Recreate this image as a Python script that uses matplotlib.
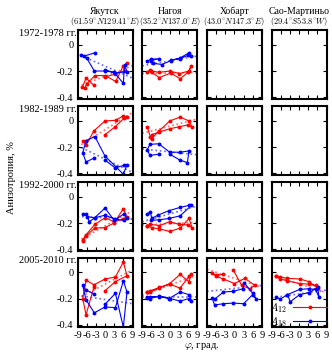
import matplotlib
matplotlib.use('Agg')
import matplotlib.pyplot as plt

plt.rcParams['font.family'] = ['Liberation Serif', 'DejaVu Serif']
plt.rcParams['mathtext.fontset'] = 'cm'
plt.rcParams['axes.unicode_minus'] = False

stations = ['Якутск', 'Нагоя', 'Хобарт', 'Сао-Мартиньо']
coords = [r'$(61.59^{\circ}N129.41^{\circ}E)$', r'$(35.2^{\circ}N137.0^{\circ}E)$',
          r'$(43.0^{\circ}N147.3^{\circ}E)$', r'$(29.4^{\circ}S53.8^{\circ}W)$']
periods = ['1972-1978 гг.', '1982-1989 гг.', '1992-2000 гг.', '2005-2010 гг.']
phi_ticks = [-9, -6, -3, 0, 3, 6, 9]
a_ticks = [0, -0.2, -0.4]
a_labels = ['0', '-0.2', '-0.4']
fit_phi = [-9, 9]

# (phi, anisotropy) pairs
yak1_a12 = [(-3.6, -0.31), (-6.2, -0.255), (-7.4, -0.325), (-6.6, -0.33), (-6.0, -0.3), (-3.3, -0.235),
            (0.0, -0.235), (3.5, -0.28), (6.0, -0.16), (7.1, -0.14), (6.3, -0.2), (3.2, -0.225), (0.0, -0.245)]
yak1_a18 = [(-3.3, -0.06), (-6.8, -0.085), (-8.0, -0.075), (-6.0, -0.1), (-3.5, -0.2), (0.0, -0.2),
            (3.0, -0.21), (6.0, -0.295), (6.4, -0.155), (7.2, -0.205), (3.2, -0.215), (0.0, -0.19)]
yak1_fit12 = [-0.32, -0.16]
yak1_fit18 = [-0.07, -0.255]

nag1_a12 = [(-7.4, -0.21), (-6.3, -0.19), (-5.9, -0.21), (-3.4, -0.25), (0.4, -0.215), (3.4, -0.26),
            (6.0, -0.21), (7.1, -0.16), (6.3, -0.2), (3.2, -0.22), (0.0, -0.2), (-3.4, -0.21), (-6.1, -0.2)]
nag1_a18 = [(-7.4, -0.125), (-6.1, -0.11), (-3.4, -0.105), (-6.1, -0.12), (-5.5, -0.14), (-2.6, -0.15),
            (0.4, -0.12), (3.4, -0.1), (6.3, -0.06), (7.1, -0.085), (6.0, -0.08), (3.4, -0.105), (0.4, -0.115)]
nag1_fit12 = [-0.22, -0.21]
nag1_fit18 = [-0.16, -0.085]

yak2_a12 = [(-7.1, -0.155), (-6.2, -0.185), (-3.6, -0.075), (0.0, 0.0), (3.5, 0.005), (6.0, 0.04),
            (7.1, 0.03), (6.2, 0.02), (3.3, -0.045), (0.0, -0.105)]
yak2_a18 = [(-3.6, -0.285), (-6.2, -0.315), (-7.3, -0.245), (-6.2, -0.15), (-3.3, -0.12), (0.0, -0.27),
            (3.5, -0.35), (6.0, -0.41), (7.2, -0.335), (6.3, -0.34), (3.3, -0.36), (0.0, -0.3)]
yak2_fit12 = [-0.2, 0.065]
yak2_fit18 = [-0.19, -0.395]

nag2_a12 = [(-7.4, -0.045), (-6.3, -0.12), (-5.9, -0.135), (-3.6, -0.08), (0.0, 0.0), (3.4, 0.03),
            (6.3, 0.0), (7.4, -0.05), (6.0, -0.03), (3.0, -0.045), (0.0, -0.06), (-3.4, -0.085), (-5.9, -0.105)]
nag2_a18 = [(-3.6, -0.255), (-6.5, -0.265), (-7.3, -0.22), (-6.5, -0.18), (-3.6, -0.175), (0.0, -0.24),
            (3.4, -0.24), (6.3, -0.23), (5.8, -0.32), (3.3, -0.3), (0.0, -0.255)]
nag2_fit12 = [-0.095, 0.015]
nag2_fit18 = [-0.215, -0.26]

yak3_a12 = [(-7.3, -0.335), (-6.2, -0.3), (-3.4, -0.24), (0.0, -0.235), (3.0, -0.2), (6.0, -0.09),
            (7.1, -0.15), (6.0, -0.17), (3.0, -0.19), (0.0, -0.16), (-3.3, -0.21), (-6.2, -0.29), (-7.3, -0.33)]
yak3_a18 = [(-7.1, -0.13), (-6.2, -0.13), (-5.1, -0.19), (-3.4, -0.16), (0.0, -0.085), (3.0, -0.18),
            (6.2, -0.13), (7.1, -0.16), (6.2, -0.18), (3.2, -0.17), (0.0, -0.14), (-3.4, -0.16), (-6.0, -0.15)]
yak3_fit12 = [-0.34, -0.105]
yak3_fit18 = [-0.15, -0.17]

nag3_a12 = [(-7.4, -0.22), (-5.9, -0.235), (-3.4, -0.245), (0.0, -0.265), (3.4, -0.24), (6.3, -0.165),
            (7.3, -0.235), (6.0, -0.215), (3.0, -0.21), (0.0, -0.19), (-3.4, -0.22), (-6.3, -0.21), (-7.4, -0.22)]
nag3_a18 = [(-7.4, -0.13), (-6.3, -0.115), (-5.9, -0.165), (-3.9, -0.14), (-0.2, -0.105), (3.4, -0.08),
            (6.3, -0.065), (7.1, -0.065), (3.4, -0.145), (-0.2, -0.165), (-3.4, -0.175), (-6.1, -0.18)]
nag3_fit12 = [-0.215, -0.195]
nag3_fit18 = [-0.19, -0.07]

yak4_a12 = [(0.0, -0.14), (3.4, -0.07), (7.2, -0.025), (6.0, 0.08), (3.4, -0.035), (0.0, -0.05),
            (-3.6, -0.095), (-6.2, -0.06), (-7.3, -0.2), (-6.2, -0.325), (-3.6, -0.11)]
yak4_a18 = [(-3.6, -0.165), (-6.2, -0.135), (-7.3, -0.1), (-6.2, -0.21), (-3.5, -0.31), (0.0, -0.265),
            (3.4, -0.27), (6.0, -0.065), (7.2, -0.15), (6.0, -0.42), (3.4, -0.16), (0.0, -0.245)]
yak4_fit12 = [-0.2, 0.02]
yak4_fit18 = [-0.175, -0.24]

nag4_a12 = [(-7.4, -0.15), (-6.3, -0.15), (-3.4, -0.12), (0.0, -0.085), (3.4, -0.015), (6.3, -0.07),
            (7.1, -0.015), (6.3, -0.03), (3.4, -0.12), (0.0, -0.09), (-3.4, -0.115), (-6.3, -0.14), (-7.4, -0.15)]
nag4_a18 = [(-7.4, -0.195), (-6.3, -0.185), (-3.4, -0.185), (-0.2, -0.2), (3.4, -0.15), (6.3, -0.17),
            (7.1, -0.22), (6.3, -0.2), (3.4, -0.22), (0.0, -0.2), (-3.4, -0.18), (-6.3, -0.2), (-7.4, -0.19)]
nag4_fit12 = [-0.175, -0.02]
nag4_fit18 = [-0.185, -0.185]

hob4_a12 = [(-0.4, 0.02), (2.4, -0.1), (5.0, -0.125), (6.7, -0.1), (3.4, -0.045), (0.0, -0.085),
            (-3.6, -0.05), (-6.0, -0.03), (-7.4, -0.005), (-5.8, -0.02), (-3.6, -0.015)]
hob4_a18 = [(-7.3, -0.195), (-6.5, -0.25), (-3.6, -0.24), (-0.4, -0.235), (3.0, -0.24), (6.0, -0.17),
            (7.0, -0.2), (6.0, -0.16), (3.2, -0.08), (2.8, -0.125), (-0.4, -0.145), (-3.6, -0.15), (-6.2, -0.2)]
hob4_fit12 = [0.025, -0.115]
hob4_fit18 = [-0.145, -0.1]

sao4_a12 = [(-7.6, -0.025), (-6.2, -0.035), (-3.8, -0.045), (0.2, -0.05), (3.2, -0.07), (6.1, -0.12),
            (5.4, -0.1), (3.2, -0.09), (0.2, -0.085), (-3.8, -0.065), (-6.2, -0.05), (-7.6, -0.03)]
sao4_a18 = [(-7.6, -0.185), (-6.2, -0.205), (-3.8, -0.17), (-2.9, -0.225), (0.2, -0.17), (3.2, -0.155),
            (6.1, -0.115), (6.5, -0.19), (5.4, -0.13), (3.2, -0.125), (0.2, -0.13), (-3.8, -0.17)]
sao4_fit12 = [-0.02, -0.155]
sao4_fit18 = [-0.195, -0.135]

panels = {
    (0, 0): (yak1_a12, yak1_a18, yak1_fit12, yak1_fit18),
    (0, 1): (nag1_a12, nag1_a18, nag1_fit12, nag1_fit18),
    (1, 0): (yak2_a12, yak2_a18, yak2_fit12, yak2_fit18),
    (1, 1): (nag2_a12, nag2_a18, nag2_fit12, nag2_fit18),
    (2, 0): (yak3_a12, yak3_a18, yak3_fit12, yak3_fit18),
    (2, 1): (nag3_a12, nag3_a18, nag3_fit12, nag3_fit18),
    (3, 0): (yak4_a12, yak4_a18, yak4_fit12, yak4_fit18),
    (3, 1): (nag4_a12, nag4_a18, nag4_fit12, nag4_fit18),
    (3, 2): (hob4_a12, hob4_a18, hob4_fit12, hob4_fit18),
    (3, 3): (sao4_a12, sao4_a18, sao4_fit12, sao4_fit18),
}

W, H = 332, 355
fig = plt.figure(figsize=(W / 100, H / 100), dpi=100)

lefts = [77.5, 142.2, 206.9, 271.6]
tops = [30, 106, 182, 257.5]
aw, ah = 55, 69

for i in range(4):
    for j in range(4):
        ax = fig.add_axes([lefts[j] / W, 1 - (tops[i] + ah) / H, aw / W, ah / H])
        ax.set_xlim(-9, 9)
        ax.set_ylim(-0.415, 0.115)
        ax.set_xticks(phi_ticks)
        ax.set_yticks(a_ticks)
        ax.tick_params(direction='in', top=True, right=True, length=3, width=0.8,
                       labelsize=7.5, pad=3)
        for s in ax.spines.values():
            s.set_linewidth(1.5)
        if j > 0:
            ax.set_yticklabels([])
        else:
            ax.set_yticklabels(a_labels)
        if i < 3:
            ax.set_xticklabels([])
        if j == 0:
            ax.text(-0.02, 0.955, periods[i], transform=ax.transAxes,
                    ha='right', va='center', fontsize=7.5)
        if (i, j) in panels:
            a12, a18, f12, f18 = panels[(i, j)]
            ax.plot(fit_phi, f12, ls=':', color='#ff0000', lw=1.2, alpha=0.6)
            ax.plot(fit_phi, f18, ls=':', color='#0000ff', lw=1.2, alpha=0.6)
            x, y = zip(*a12)
            l12, = ax.plot(x, y, '-', color='#ff0000', lw=0.8, marker='o', ms=1.8,
                           label='$A_{12}$')
            x, y = zip(*a18)
            l18, = ax.plot(x, y, '-', color='#0000ff', lw=0.8, marker='o', ms=1.8,
                           label='$A_{18}$')
            if (i, j) == (3, 3):
                ax.legend(handles=[l12, l18], loc='lower right', bbox_to_anchor=(1.0, -0.03),
                          frameon=False, markerfirst=False, fontsize=8,
                          handlelength=3.0, handletextpad=0.6, borderaxespad=0.0,
                          borderpad=0.0, labelspacing=0.0)

for j in range(4):
    cx = (lefts[j] + aw / 2) / W
    fig.text(cx, 1 - 11 / H, stations[j], ha='center', va='center', fontsize=7)
    fig.text(cx, 1 - 22 / H, coords[j], ha='center', va='center', fontsize=6)

fig.text(11.5 / W, 1 - 178 / H, 'Анизотропия, %', rotation=90,
         ha='center', va='center', fontsize=7.5)
fig.text(202 / W, 1 - 347 / H, r'$\varphi$, град.', ha='center', va='center',
         fontsize=7.5)

fig.savefig('out.png', dpi=100)
